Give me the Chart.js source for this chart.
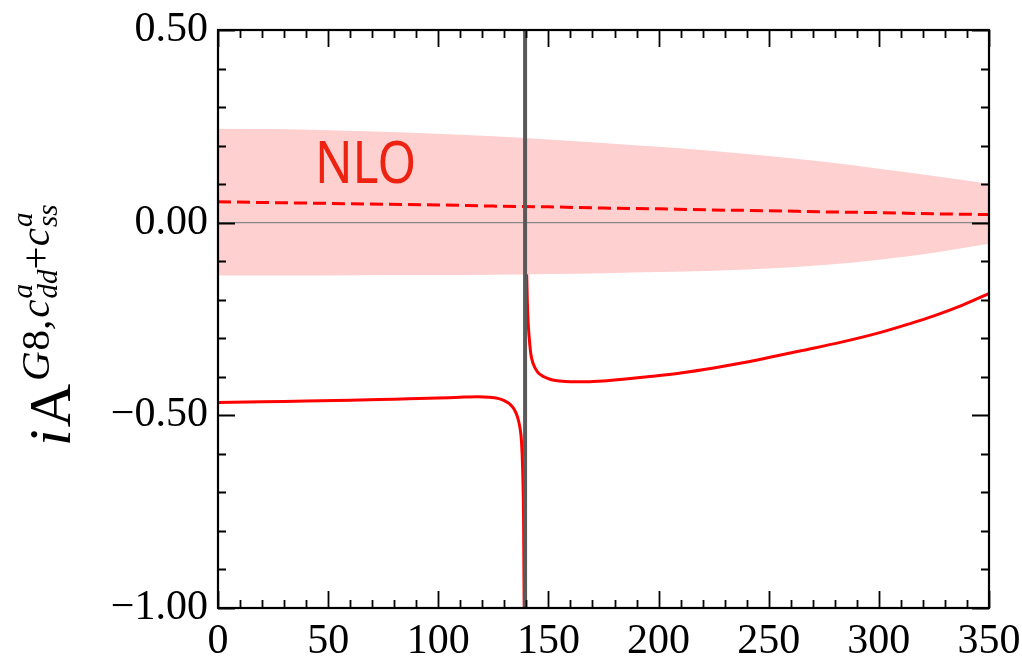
<!DOCTYPE html>
<html>
<head>
<meta charset="utf-8">
<script src="https://cdn.jsdelivr.net/npm/chart.js@4.4.0/dist/chart.umd.min.js"></script>
<style>
  html, body { margin: 0; padding: 0; background: #fff; }
  canvas { display: block; }
</style>
</head>
<body>
<canvas id="amp" width="1022" height="656"></canvas>
<script>
// axis ranges
const xMin = 0, xMax = 350;
const yMin = -1.0, yMax = 0.5;

// position of the threshold (pion mass)
const poleX = 139.4;

// full amplitude, below the threshold
const lowX = [0, 20, 40, 60, 80, 100, 110, 118, 123, 127, 130, 132.5, 134.5, 136, 137, 137.8, 138.3, 138.7, 139.0, 139.2];
const lowY = [-0.467, -0.465, -0.463, -0.461, -0.458, -0.455, -0.453, -0.452, -0.453, -0.456, -0.462, -0.471, -0.485, -0.505, -0.53, -0.57, -0.64, -0.76, -1.0, -1.3];

// full amplitude, above the threshold
const highX = [140.1, 140.4, 140.8, 141.3, 142.0, 143.0, 145, 148, 151, 155, 160, 167, 175, 185, 195, 210, 225, 237, 250, 265, 283, 300, 313, 325, 338, 350];
const highY = [-0.12, -0.20, -0.26, -0.30, -0.34, -0.365, -0.387, -0.400, -0.407, -0.411, -0.413, -0.413, -0.411, -0.406, -0.400, -0.390, -0.377, -0.365, -0.350, -0.332, -0.310, -0.286, -0.264, -0.242, -0.214, -0.184];

// NLO central value and its uncertainty band
const nloX = [0, 25, 50, 75, 100, 125, 150, 175, 200, 225, 250, 275, 300, 325, 350];
const nloCentral = [0.054, 0.052, 0.050, 0.048, 0.046, 0.043, 0.041, 0.038, 0.036, 0.033, 0.031, 0.028, 0.026, 0.023, 0.021];
const nloUpper = [0.244, 0.243, 0.240, 0.236, 0.231, 0.224, 0.216, 0.207, 0.197, 0.186, 0.173, 0.158, 0.140, 0.121, 0.101];
const nloLower = [-0.137, -0.137, -0.137, -0.136, -0.136, -0.135, -0.133, -0.131, -0.128, -0.125, -0.119, -0.110, -0.096, -0.078, -0.055];

const pts = (xs, ys) => xs.map((x, i) => ({ x: x, y: ys[i] }));

const serif = '"Liberation Serif", "DejaVu Serif", serif';

// box with inward major/minor ticks on all four sides
const frameTicks = {
  id: 'frameTicks',
  afterDatasetsDraw(chart) {
    const { ctx, chartArea: a, scales: { x, y } } = chart;
    ctx.save();
    ctx.strokeStyle = '#000';
    ctx.lineWidth = 1.8;
    ctx.beginPath();
    for (let v = xMin; v <= xMax; v += 10) {
      const px = Math.round(x.getPixelForValue(v)) + 0.5;
      const len = v % 50 === 0 ? 17 : 8;
      ctx.moveTo(px, a.bottom); ctx.lineTo(px, a.bottom - len);
      ctx.moveTo(px, a.top); ctx.lineTo(px, a.top + len);
    }
    for (let i = -10; i <= 5; i++) {
      const py = Math.round(y.getPixelForValue(i / 10)) + 0.5;
      const len = i % 5 === 0 ? 17 : 8;
      ctx.moveTo(a.left, py); ctx.lineTo(a.left + len, py);
      ctx.moveTo(a.right, py); ctx.lineTo(a.right - len, py);
    }
    ctx.stroke();
    ctx.lineWidth = 2.2;
    ctx.strokeRect(a.left, a.top, a.right - a.left, a.bottom - a.top);
    ctx.restore();
  }
};

// "NLO" tag inside the band
const nloTag = {
  id: 'nloTag',
  afterDatasetsDraw(chart) {
    const { ctx, scales: { x, y } } = chart;
    const cx = x.getPixelForValue(67), by = y.getPixelForValue(0.104);
    ctx.save();
    ctx.font = '59px "Noto Sans", "Open Sans", sans-serif';
    ctx.fillStyle = '#ee2211';
    ctx.textAlign = 'center';
    ctx.textBaseline = 'alphabetic';
    ctx.translate(cx, by);
    ctx.scale(0.84, 1);
    ctx.fillText('NLO', 0, 0);
    ctx.restore();
  }
};

// rotated y-axis title: iA^{G8, c^a_dd + c^a_ss}
const yTitle = {
  id: 'yTitle',
  afterDraw(chart) {
    const ctx = chart.ctx;
    ctx.save();
    ctx.translate(70, 446);
    ctx.rotate(-Math.PI / 2);
    ctx.fillStyle = '#000';
    ctx.textBaseline = 'alphabetic';
    let u = 0;
    const put = (t, font, v) => {
      ctx.font = font;
      ctx.fillText(t, u, v);
      return ctx.measureText(t).width;
    };
    const big = '60px ' + serif, bigI = 'italic 60px ' + serif;
    const sup = '41px ' + serif, supI = 'italic 41px ' + serif;
    const tiny = 'italic 29px ' + serif;
    const base = -21;
    u += put('i', bigI, 0) + 2;
    u += put('A', big, 0) + 3;
    u += put('G', supI, base) + 1;
    u += put('8', sup, base);
    u += put(',', supI, base) + 2;
    const cScript = (sub) => {
      u += put('c', supI, base) + 1;
      const u0 = u;
      const w1 = put('a', tiny, base - 17);
      u = u0;
      const w2 = put(sub, tiny, base + 8);
      u = u0 + Math.max(w1, w2);
    };
    cScript('dd');
    u += put('+', sup, base);
    cScript('ss');
    ctx.restore();
  }
};

new Chart(document.getElementById('amp'), {
  type: 'line',
  data: {
    datasets: [
      {
        label: 'threshold',
        data: [{ x: poleX, y: yMin }, { x: poleX, y: yMax }],
        borderColor: '#595959',
        borderWidth: 4,
        pointRadius: 0,
        order: 1
      },
      {
        label: 'NLO central',
        data: pts(nloX, nloCentral),
        borderColor: '#ff0000',
        borderWidth: 3,
        borderDash: [13, 6],
        pointRadius: 0,
        cubicInterpolationMode: 'monotone',
        order: 2
      },
      {
        label: 'zero',
        data: [{ x: xMin, y: 0 }, { x: xMax, y: 0 }],
        borderColor: '#8a8a8a',
        borderWidth: 1.2,
        pointRadius: 0,
        order: 3
      },
      {
        label: 'NLO upper',
        data: pts(nloX, nloUpper),
        borderWidth: 0,
        borderColor: 'rgba(0,0,0,0)',
        backgroundColor: 'rgb(255, 208, 208)',
        pointRadius: 0,
        cubicInterpolationMode: 'monotone',
        fill: '+1',
        order: 4
      },
      {
        label: 'NLO lower',
        data: pts(nloX, nloLower),
        borderWidth: 0,
        borderColor: 'rgba(0,0,0,0)',
        pointRadius: 0,
        cubicInterpolationMode: 'monotone',
        fill: false,
        order: 4
      },
      {
        label: 'full, below',
        data: pts(lowX, lowY),
        borderColor: '#ff0000',
        borderWidth: 3,
        pointRadius: 0,
        cubicInterpolationMode: 'monotone',
        order: 5
      },
      {
        label: 'full, above',
        data: pts(highX, highY),
        borderColor: '#ff0000',
        borderWidth: 3,
        pointRadius: 0,
        cubicInterpolationMode: 'monotone',
        order: 5
      }
    ]
  },
  options: {
    responsive: false,
    animation: false,
    events: [],
    layout: { padding: { left: 0, top: 30, right: 33, bottom: 0 } },
    plugins: {
      legend: { display: false },
      tooltip: { enabled: false },
      filler: { propagate: false }
    },
    scales: {
      x: {
        type: 'linear',
        min: xMin,
        max: xMax,
        grid: { display: false, drawTicks: false },
        border: { display: false },
        ticks: {
          stepSize: 50,
          autoSkip: false,
          maxRotation: 0,
          padding: 9,
          color: '#000',
          font: { family: serif, size: 42 }
        },
        afterFit(scale) {
          scale.height = 48;
          scale.paddingLeft = 0;
          scale.paddingRight = 0;
        }
      },
      y: {
        type: 'linear',
        min: yMin,
        max: yMax,
        grid: { display: false, drawTicks: false },
        border: { display: false },
        ticks: {
          stepSize: 0.5,
          padding: 10,
          color: '#000',
          font: { family: serif, size: 42 },
          callback: (v) => v.toFixed(2).replace('-', '\u2212')
        },
        afterFit(scale) {
          scale.width = 218;
          scale.paddingTop = 0;
          scale.paddingBottom = 0;
        }
      }
    }
  },
  plugins: [frameTicks, nloTag, yTitle]
});
</script>
</body>
</html>
